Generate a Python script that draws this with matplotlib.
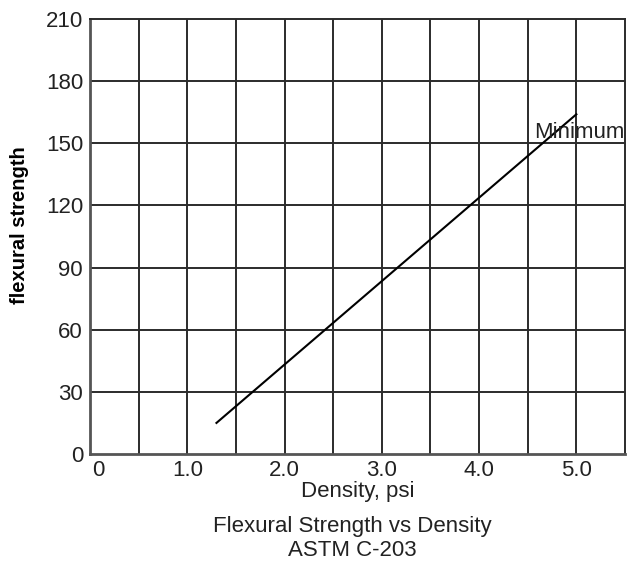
import numpy as np
import matplotlib
matplotlib.use('Agg')
import matplotlib.pyplot as plt
import matplotlib.transforms as mtransforms

plt.rcParams['font.family'] = ['Liberation Sans', 'DejaVu Sans']

# minimum line
density = [1.3, 5.0]
strength = [15, 164]

xticks = [0, 1.0, 2.0, 3.0, 4.0, 5.0]
xticklabels = ['0', '1.0', '2.0', '3.0', '4.0', '5.0']
yticks = [0, 30, 60, 90, 120, 150, 180, 210]

fig = plt.figure(figsize=(6.35, 5.7), dpi=100)
ax = fig.add_axes([90/635, 1-454/570, 535/635, 435/570])

# grid every 0.5 in x and 30 in y
for gx in np.arange(0.5, 5.5, 0.5):
    ax.axvline(gx, color='#2b2b2b', lw=1.4, zorder=1)
for gy in yticks[1:-1]:
    ax.axhline(gy, color='#2b2b2b', lw=1.4, zorder=1)

ax.plot(density, strength, color='black', lw=1.5, zorder=3)
ax.text(4.57, 152.5, 'Minimum', fontsize=16, color='#222222', va='baseline', ha='left')

ax.set_xlim(0, 5.5)
ax.set_ylim(0, 210)
ax.set_xticks(xticks)
ax.set_xticklabels(xticklabels)
ax.set_yticks(yticks)
ax.tick_params(length=0, labelsize=16, labelcolor='#222222')
ax.tick_params(axis='x', pad=4)
ax.tick_params(axis='y', pad=5)

# first x label sits a bit to the right of the corner
lab0 = ax.get_xticklabels()[0]
lab0.set_transform(lab0.get_transform() + mtransforms.ScaledTranslation(8/100, 0, fig.dpi_scale_trans))

for s in ['top', 'right']:
    ax.spines[s].set_color('#2b2b2b')
    ax.spines[s].set_linewidth(1.4)
for s in ['left', 'bottom']:
    ax.spines[s].set_color('#555555')
    ax.spines[s].set_linewidth(2)

ax.set_xlabel('Density, psi', fontsize=16, color='#222222')
ax.xaxis.set_label_coords(0.5, -0.062)
fig.text(20/635, 1-225/570, 'flexural strength', rotation=90, fontsize=14.5,
         fontweight='bold', ha='center', va='center')
fig.text(352/635, 1-538.5/570, 'Flexural Strength vs Density\nASTM C-203',
         fontsize=16, color='#222222', ha='center', va='center', multialignment='center')

plt.savefig('out.png', dpi=100)
